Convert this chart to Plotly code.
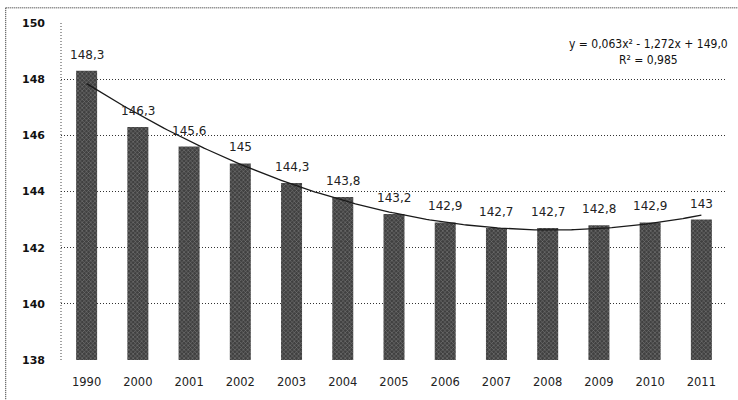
import numpy as np
import plotly.graph_objects as go

years = ["1990", "2000", "2001", "2002", "2003", "2004", "2005", "2006", "2007", "2008", "2009", "2010", "2011"]
population = [148.3, 146.3, 145.6, 145.0, 144.3, 143.8, 143.2, 142.9, 142.7, 142.7, 142.8, 142.9, 143.0]
y_ticks = [138, 140, 142, 144, 146, 148, 150]
equation_text = "y = 0,063x² - 1,272x + 149,0<br>R² = 0,985"

xpos = np.arange(len(years))
labels = [(f"{v:.1f}".rstrip("0").rstrip(".")).replace(".", ",") for v in population]

# polynomial trend fitted to the data (x = 1..n, as in the spreadsheet)
coef = np.polyfit(np.arange(1, len(years) + 1), population, 2)
xs = np.linspace(0, len(years) - 1, 200)
ys = np.polyval(coef, xs + 1)

fig = go.Figure()
fig.add_trace(go.Bar(
    x=xpos, y=[v - 138 for v in population], base=138,
    marker=dict(color="#444444", line=dict(width=0),
                pattern=dict(shape="x", size=3, solidity=0.3, fgcolor="#c4c4c4", bgcolor="#404040")),
    width=0.41, showlegend=False, hoverinfo="skip",
))
fig.add_trace(go.Scatter(x=xs, y=ys, mode="lines", line=dict(color="#1a1a1a", width=1.3),
                         showlegend=False, hoverinfo="skip"))

for i, (v, t) in enumerate(zip(population, labels)):
    fig.add_annotation(x=i, y=v, text=t, showarrow=False, yanchor="bottom", yshift=7,
                       font=dict(family="DejaVu Sans", size=12, color="#222"))

fig.add_annotation(xref="paper", yref="paper", x=1.005, y=0.915, text=equation_text,
                   showarrow=False, align="center", xanchor="right", yanchor="middle",
                   font=dict(family="DejaVu Sans Condensed, Open Sans", size=12, color="#111"))

# outer dotted frame (partially visible)
fig.add_shape(type="line", xref="paper", yref="paper", x0=-0.083, x1=1.02, y0=1.045, y1=1.045,
              line=dict(color="#222", width=1, dash="1px,1px"))
fig.add_shape(type="line", xref="paper", yref="paper", x0=-0.083, x1=-0.083, y0=1.045, y1=-0.15,
              line=dict(color="#222", width=1, dash="1px,1px"))

fig.update_layout(
    width=738, height=400,
    margin=dict(l=61, r=11, t=23, b=40),
    paper_bgcolor="white", plot_bgcolor="white",
    bargap=0.59,
)
fig.update_xaxes(
    tickmode="array", tickvals=list(xpos), ticktext=years,
    range=[-0.5, len(years) - 0.5], showgrid=False, zeroline=False,
    showline=False, ticks="", ticklabelstandoff=13,
    tickfont=dict(family="DejaVu Sans", size=11.5, color="#222"),
)
fig.update_yaxes(
    range=[138, 150], tickvals=y_ticks, showgrid=True, gridcolor="#333", griddash="1px,2px",
    gridwidth=1, zeroline=False, showline=False,
    ticks="", ticklabelstandoff=15,
    tickfont=dict(family="DejaVu Sans", size=11, color="#111", weight="bold"),
)
fig.add_shape(type="line", xref="paper", yref="paper", x0=0, x1=0, y0=0, y1=1,
              line=dict(color="#444", width=1, dash="1px,2px"))

fig.write_html("out.html", config={"displayModeBar": False},
               post_script="document.body.style.margin='0';")
